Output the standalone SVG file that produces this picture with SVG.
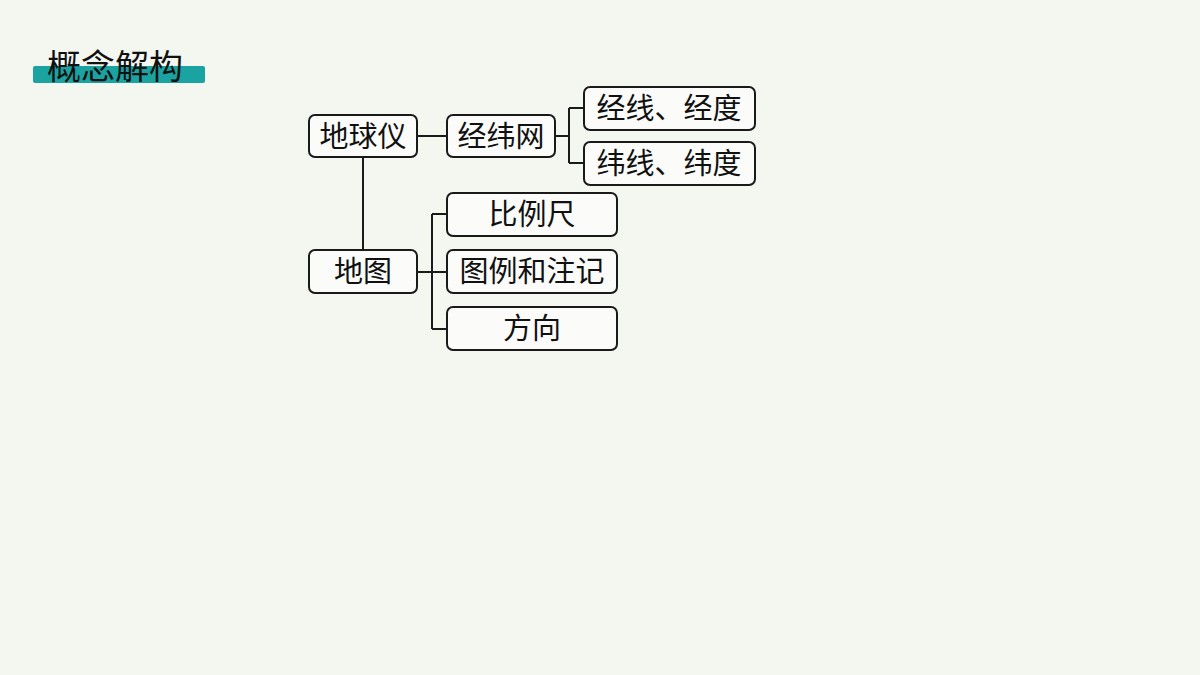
<svg xmlns="http://www.w3.org/2000/svg" width="1200" height="675" viewBox="0 0 1200 675">
<style>
.b{fill:#fbfcf9;stroke:#1a1a1a;stroke-width:2}
.t{font-family:"Noto Sans CJK SC","Noto Sans",sans-serif;font-size:29px;fill:#111;text-anchor:middle}
.c{stroke:#1a1a1a;stroke-width:2;fill:none}
</style>
<rect width="1200" height="675" fill="#f3f7f0"/>
<rect x="33" y="66" width="172" height="17" rx="2" fill="#1aa3a0"/>
<text x="47" y="79" font-family="Noto Sans CJK SC,sans-serif" font-size="34" fill="#111">概念解构</text>
<g id="connectors">
<path class="c" d="M417 136H447M555 136H569M569 108V163M569 108H584M569 163H584M363 157V250M417 272H447M432 214V329M432 214H447M432 329H447"/>
</g>
<g id="n1"><rect class="b" x="309" y="115" width="108" height="42" rx="6"/><text class="t" x="363" y="147">地球仪</text></g>
<g id="n2"><rect class="b" x="447" y="115" width="108" height="42" rx="6"/><text class="t" x="501" y="147">经纬网</text></g>
<g id="n3"><rect class="b" x="584" y="87" width="171" height="43" rx="6"/><text class="t" x="669" y="119">经线、经度</text></g>
<g id="n4"><rect class="b" x="584" y="142" width="171" height="43" rx="6"/><text class="t" x="669" y="174">纬线、纬度</text></g>
<g id="n5"><rect class="b" x="309" y="250" width="108" height="43" rx="6"/><text class="t" x="363" y="282">地图</text></g>
<g id="n6"><rect class="b" x="447" y="193" width="170" height="43" rx="6"/><text class="t" x="532" y="225">比例尺</text></g>
<g id="n7"><rect class="b" x="447" y="250" width="170" height="43" rx="6"/><text class="t" x="532" y="282">图例和注记</text></g>
<g id="n8"><rect class="b" x="447" y="307" width="170" height="43" rx="6"/><text class="t" x="532" y="339">方向</text></g>
</svg>
